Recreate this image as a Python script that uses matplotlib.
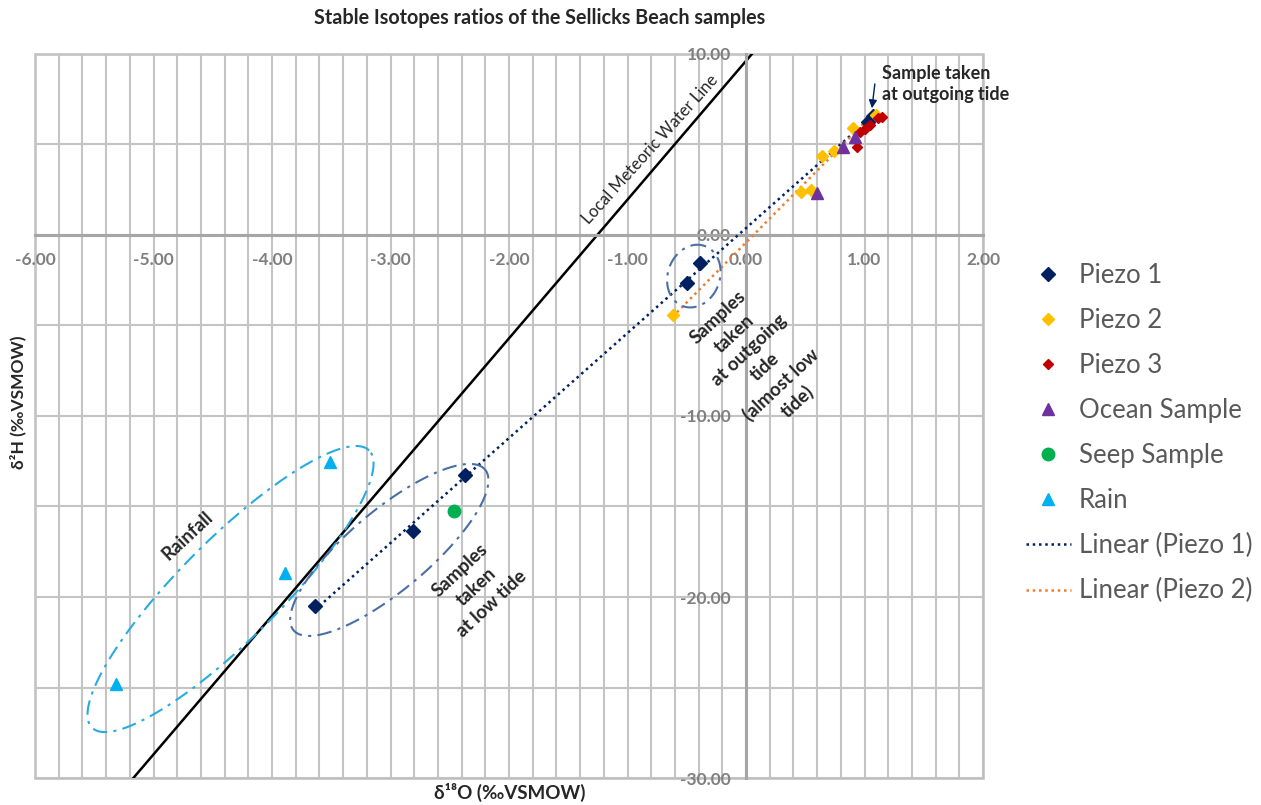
import numpy as np
import matplotlib
matplotlib.use("Agg")
import matplotlib.pyplot as plt
from matplotlib.patches import Rectangle

plt.rcParams['font.family'] = ['Lato', 'DejaVu Sans']
# bold by default (tick labels, titles, notes); legend and line label set normal
plt.rcParams['font.weight'] = 'bold'

# delta 18O / delta 2H pairs (permil VSMOW)
piezo1_x = [-0.39, -0.50, -2.37, -2.81, -3.64, 1.03, 1.07]
piezo1_y = [-1.55, -2.65, -13.26, -16.35, -20.50, 6.25, 6.60]

piezo2_x = [-0.62, 0.46, 0.55, 0.64, 0.74, 0.90, 1.10]
piezo2_y = [-4.42, 2.40, 2.50, 4.35, 4.65, 5.90, 6.65]

piezo3_x = [0.94, 0.96, 1.00, 1.05, 1.11, 1.15]
piezo3_y = [4.85, 5.70, 5.85, 6.10, 6.45, 6.50]

ocean_x = [0.60, 0.82, 0.92]
ocean_y = [2.30, 4.85, 5.40]

seep_x = [-2.46]
seep_y = [-15.25]

rain_x = [-3.51, -3.89, -5.32]
rain_y = [-12.54, -18.67, -24.80]

# local meteoric water line, end points
lmwl_x = [-5.17, 0.05]
lmwl_y = [-30.0, 10.0]

xlim = (-6, 2)
ylim = (-30, 10)
xt = np.arange(-6, 2.01, 1)
yt = np.arange(-30, 10.01, 10)

fig = plt.figure(figsize=(12.61, 8.05), dpi=100)
ax = fig.add_axes([0.02776, 0.03354, 0.75178, 0.89938])
ax.set_xlim(*xlim)
ax.set_ylim(*ylim)

# axes cross at the origin
ax.spines['left'].set_position(('data', 0))
ax.spines['bottom'].set_position(('data', 0))
for s in ('left', 'bottom'):
    ax.spines[s].set_color('#A6A6A6')
    ax.spines[s].set_linewidth(2.2)
ax.spines['top'].set_visible(False)
ax.spines['right'].set_visible(False)
ax.add_patch(Rectangle((0, 0), 1, 1, transform=ax.transAxes, fill=False,
                       ec='#BDBDBD', lw=1.8, clip_on=False, zorder=0.5))

# grid: 0.2 permil in x, 5 permil in y
ax.set_xticks(xt)
ax.set_xticks(np.arange(-6, 2.01, 0.2), minor=True)
ax.set_yticks(yt)
ax.set_yticks(np.arange(-30, 10.01, 5), minor=True)
ax.grid(True, which='both', color='#C4C4C4', lw=1.5, zorder=0)
ax.set_axisbelow(True)
ax.tick_params(which='both', length=0)
ax.tick_params(axis='x', pad=12, labelsize=12.5, labelcolor='#7F7F7F')
ax.tick_params(axis='y', pad=11, labelsize=12.5, labelcolor='#7F7F7F')
ax.set_xticklabels([f'{v:.2f}' for v in xt])
ax.set_yticklabels([f'{v:.2f}' for v in yt])

# meteoric water line
ax.plot(lmwl_x, lmwl_y, color='black', lw=1.8, zorder=2)

# linear trends
fit1 = np.polyfit(piezo1_x, piezo1_y, 1)
xx1 = np.array([min(piezo1_x), max(piezo1_x)])
fit2 = np.polyfit(piezo2_x, piezo2_y, 1)
xx2 = np.array([min(piezo2_x), max(piezo2_x)])

h_p1, = ax.plot(piezo1_x, piezo1_y, 'D', color='#002060', ms=7, ls='none', label='Piezo 1', zorder=4)
h_p2, = ax.plot(piezo2_x, piezo2_y, 'D', color='#FFC000', ms=6, ls='none', label='Piezo 2', zorder=4)
h_p3, = ax.plot(piezo3_x, piezo3_y, 'D', color='#C00000', ms=5, ls='none', label='Piezo 3', zorder=4)
h_oc, = ax.plot(ocean_x, ocean_y, '^', color='#7030A0', ms=9, ls='none', label='Ocean Sample', zorder=4)
h_sp, = ax.plot(seep_x, seep_y, 'o', color='#00B050', ms=9, ls='none', label='Seep Sample', zorder=4)
h_rn, = ax.plot(rain_x, rain_y, '^', color='#00B0F0', ms=9, ls='none', label='Rain', zorder=4)
h_t1, = ax.plot(xx1, np.polyval(fit1, xx1), ls=(0, (1, 1.5)), color='#002060', lw=1.8,
                label='Linear (Piezo 1)', zorder=3)
h_t2, = ax.plot(xx2, np.polyval(fit2, xx2), ls=(0, (1, 1.5)), color='#ED7D31', lw=1.8,
                label='Linear (Piezo 2)', zorder=3)

# pixels per data unit, so the rings keep their shape on screen
bb = ax.get_position()
sx = bb.width * fig.get_figwidth() * fig.dpi / (xlim[1] - xlim[0])
sy = bb.height * fig.get_figheight() * fig.dpi / (ylim[1] - ylim[0])


def ring(cx, cy, a_px, b_px, ang, color):
    t = np.linspace(0, 2 * np.pi, 300)
    u = a_px * np.cos(t)
    v = b_px * np.sin(t)
    r = np.deg2rad(ang)
    dx = u * np.cos(r) - v * np.sin(r)
    dy = u * np.sin(r) + v * np.cos(r)
    ax.plot(cx + dx / sx, cy + dy / sy, color=color, lw=1.5,
            ls=(0, (7, 3, 1.5, 3)), zorder=3)


ring(-4.35, -19.56, 196, 50, 45, '#29ABE2')
ring(-3.01, -17.40, 125, 40, 40, '#4A6FA5')
ring(-0.44, -2.27, 32, 26, 70, '#4A6FA5')

note = dict(fontweight='bold', color='#262626', ha='center', va='center',
            multialignment='center', rotation_mode='anchor', linespacing=1.4)
ax.text(-0.81, 4.7, 'Local Meteoric Water Line', rotation=48, fontsize=12,
        fontweight='normal', color='#262626', ha='center', va='center',
        rotation_mode='anchor')
ax.text(-4.71, -16.63, 'Rainfall', rotation=43, fontsize=13.5, **note)
ax.text(-2.28, -19.45, 'Samples\ntaken\nat low tide', rotation=43, fontsize=13.5, **note)
ax.text(0.10, -6.9, 'Samples\ntaken\nat outgoing\ntide\n(almost low\ntide)', rotation=43,
        fontsize=13.5, **note)
ax.annotate('', xy=(1.06, 6.85), xytext=(1.09, 8.5),
            arrowprops=dict(arrowstyle='-|>', color='#002060', lw=1, mutation_scale=12))
ax.text(1.15, 8.34, 'Sample taken\nat outgoing tide', fontsize=13, fontweight='bold',
        color='#262626', ha='left', va='center', linespacing=1.3)

fig.text(0.428, 0.978, 'Stable Isotopes ratios of the Sellicks Beach samples',
         fontsize=14.2, fontweight='bold', color='#262626', ha='center', va='center')
fig.text(0.404, 0.015, 'δ¹⁸O (‰VSMOW)', fontsize=13.5, fontweight='bold',
         color='#262626', ha='center', va='center')
fig.text(0.014, 0.50, 'δ²H (‰VSMOW)', fontsize=12.5, fontweight='bold',
         color='#262626', ha='center', va='center', rotation=90)

leg = ax.legend(handles=[h_p1, h_p2, h_p3, h_oc, h_sp, h_rn, h_t1, h_t2],
                loc='upper left', bbox_to_anchor=(0.795, 0.702),
                bbox_transform=fig.transFigure, frameon=False,
                prop={'size': 18.5, 'weight': 'normal'},
                labelspacing=0.78, handlelength=1.75, handletextpad=0.31)
for t in leg.get_texts():
    t.set_color('#595959')

fig.savefig('out.png', dpi=100)
